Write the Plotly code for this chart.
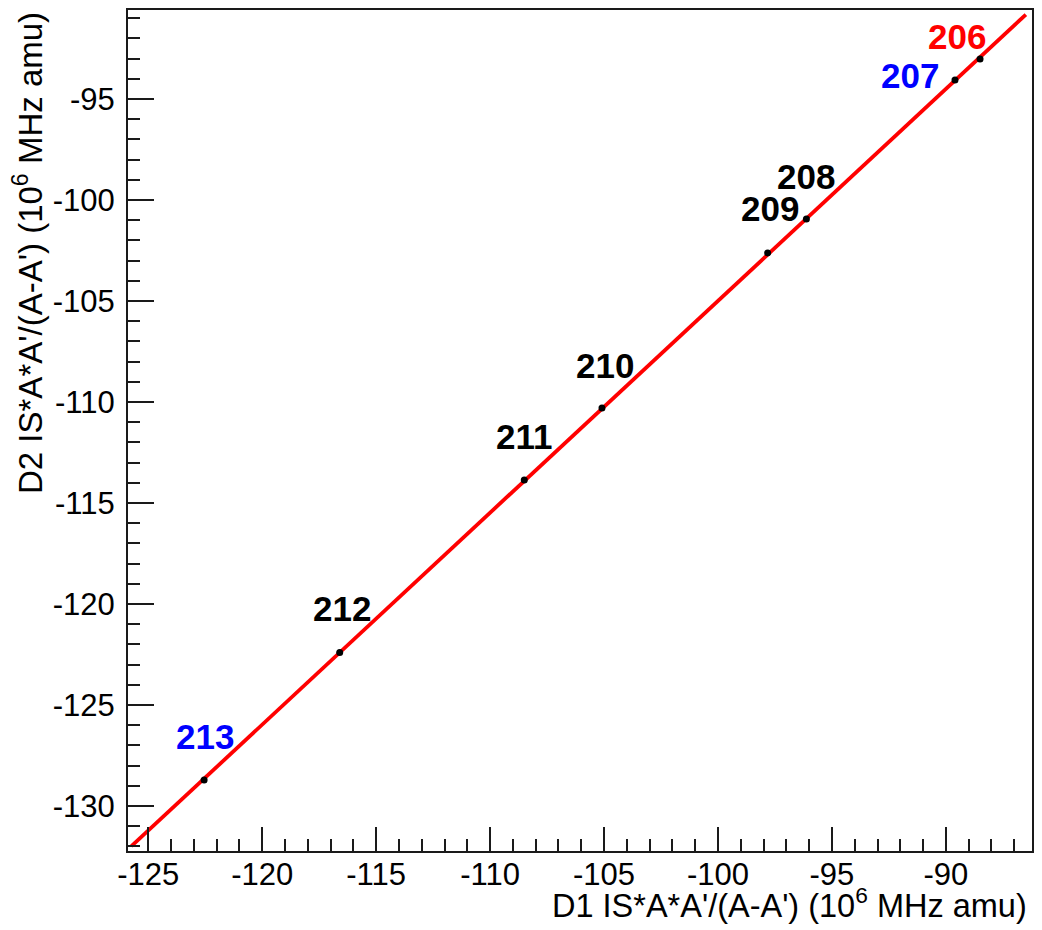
import numpy as np
import plotly.graph_objects as go

# King plot: modified isotope shifts of two transitions (10^6 MHz amu)
mass_numbers = [206, 207, 208, 209, 210, 211, 212, 213]
d1_shift = [-88.50, -89.60, -96.12, -97.82, -105.09, -108.50, -116.60, -122.55]
d2_shift = [-93.02, -94.06, -100.94, -102.62, -110.30, -113.86, -122.40, -128.71]
label_colors = ["#ff0000", "#0000ff", "black", "black", "black", "black", "black", "#0000ff"]

# range over which the fitted straight line is drawn
fit_x_range = [-125.74, -86.49]

x_tick_vals = [-125, -120, -115, -110, -105, -100, -95, -90]
y_tick_vals = [-130, -125, -120, -115, -110, -105, -100, -95]

# linear fit through the points
slope, intercept = np.polyfit(d1_shift, d2_shift, 1)
fit_x = np.array(fit_x_range)
fit_y = slope * fit_x + intercept

FONT = "Liberation Sans, Arial, Helvetica, sans-serif"
AXIS_COLOR = "#1a1a1a"

fig = go.Figure()
fig.add_trace(go.Scatter(
    x=fit_x, y=fit_y, mode="lines",
    line=dict(color="#ff0000", width=3.8),
    hoverinfo="skip", showlegend=False,
))
fig.add_trace(go.Scatter(
    x=d1_shift, y=d2_shift, mode="markers",
    marker=dict(color="black", size=7, symbol="circle"),
    showlegend=False,
))

# pixel offsets of each isotope label from its point
label_shift = {
    206: (-23, 23), 207: (-45, 5), 208: (0, 43), 209: (2, 44),
    210: (3, 43), 211: (0, 43), 212: (2, 44), 213: (1, 43),
}
for m, x, y, c in zip(mass_numbers, d1_shift, d2_shift, label_colors):
    dx, dy = label_shift[m]
    fig.add_annotation(
        x=x, y=y, text=f"<b>{m}</b>", showarrow=False,
        xanchor="center", yanchor="middle", xshift=dx, yshift=dy,
        font=dict(family=FONT, size=35, color=c),
    )

# axis titles, right/top aligned
fig.add_annotation(
    xref="paper", yref="paper", x=1, y=0, xanchor="right", yanchor="middle",
    xshift=-3, yshift=-52, showarrow=False,
    text="D1 IS*A*A'/(A-A') (10<sup>6</sup> MHz amu)",
    font=dict(family=FONT, size=32.5, color="black"),
)
fig.add_annotation(
    xref="paper", yref="paper", x=0, y=1, xanchor="center", yanchor="top",
    xshift=-100, yshift=0, showarrow=False, textangle=-90,
    text="D2 IS*A*A'/(A-A') (10<sup>6</sup> MHz amu)",
    font=dict(family=FONT, size=33, color="black"),
)

axis_common = dict(
    showgrid=False, zeroline=False,
    showline=True, linecolor=AXIS_COLOR, linewidth=2, mirror=True,
    ticks="inside", tickcolor=AXIS_COLOR, tickwidth=1.5,
    tickfont=dict(family=FONT, size=31, color="black"),
)
fig.update_xaxes(
    range=[-125.89, -86.22], tickvals=x_tick_vals,
    ticktext=[str(v) for v in x_tick_vals], ticklen=24,
    minor=dict(dtick=1, ticks="inside", ticklen=12, tickcolor=AXIS_COLOR, tickwidth=1.5),
    ticklabelstandoff=-5, **axis_common,
)
fig.update_yaxes(
    range=[-132.23, -90.59], tickvals=y_tick_vals,
    ticktext=[str(v) for v in y_tick_vals], ticklen=26,
    minor=dict(dtick=1, ticks="inside", ticklen=12, tickcolor=AXIS_COLOR, tickwidth=1.5),
    ticklabelstandoff=5, **axis_common,
)

fig.update_layout(
    width=1042, height=930,
    margin=dict(l=128, r=8, t=10, b=79),
    paper_bgcolor="white", plot_bgcolor="white",
    font=dict(family=FONT),
)

fig.write_html("out.html")
